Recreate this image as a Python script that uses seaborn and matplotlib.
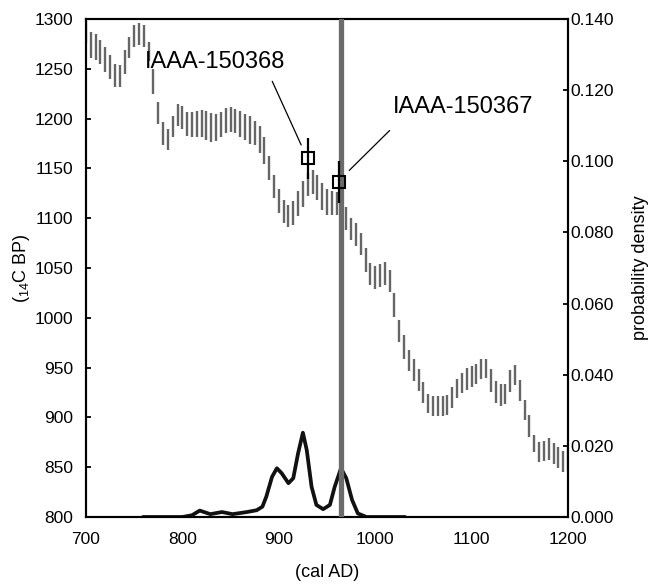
import numpy as np
import pandas as pd
import matplotlib
matplotlib.use('Agg')
import matplotlib.pyplot as plt
from matplotlib.ticker import FormatStrFormatter
import seaborn as sns

# calibration curve: 1-sigma band every 5 years (14C BP)
cal_year = list(range(700, 1205, 5))
cal_upper = [1298, 1287, 1285, 1279, 1272, 1264, 1255, 1254, 1269, 1282,
             1294, 1296, 1294, 1277, 1250, 1217, 1197, 1190, 1203, 1215,
             1213, 1207, 1207, 1208, 1209, 1208, 1206, 1205, 1207, 1211,
             1212, 1210, 1208, 1205, 1203, 1198, 1193, 1182, 1162, 1143,
             1129, 1118, 1113, 1117, 1127, 1137, 1145, 1148, 1143, 1135,
             1129, 1127, 1126, 1117, 1111, 1100, 1095, 1085, 1070, 1055,
             1052, 1054, 1056, 1048, 1025, 998, 983, 968, 959, 949,
             936, 923, 921, 921, 921, 922, 931, 939, 945, 950,
             952, 954, 959, 959, 949, 937, 934, 934, 948, 953,
             938, 917, 902, 882, 875, 876, 879, 874, 870, 866, 871]
cal_lower = [1276, 1261, 1259, 1255, 1247, 1240, 1232, 1232, 1245, 1261,
             1272, 1274, 1272, 1258, 1225, 1195, 1173, 1168, 1182, 1193,
             1190, 1183, 1182, 1182, 1182, 1179, 1177, 1178, 1182, 1186,
             1187, 1186, 1182, 1179, 1175, 1173, 1165, 1154, 1138, 1120,
             1105, 1095, 1091, 1093, 1102, 1111, 1122, 1124, 1118, 1108,
             1103, 1103, 1103, 1094, 1088, 1078, 1072, 1063, 1046, 1033,
             1029, 1031, 1033, 1026, 1001, 976, 959, 947, 937, 927,
             914, 904, 901, 901, 901, 902, 909, 919, 924, 928,
             931, 934, 939, 940, 926, 914, 911, 913, 926, 933,
             916, 897, 880, 865, 855, 856, 857, 853, 849, 845, 846]

# calibrated probability density (cal AD)
dens_year = [759, 800, 810, 818, 829, 841, 852, 867, 877, 883, 887, 893,
             898, 903, 910, 915, 920, 925, 929, 934, 939, 946, 953, 958,
             964.5, 970, 976, 982, 991, 1031]
dens_prob = [0.0, 0.0, 0.0005, 0.0018, 0.0008, 0.0014, 0.0008, 0.0014,
             0.0019, 0.0029, 0.0057, 0.0113, 0.0137, 0.0123, 0.0095, 0.0109,
             0.0179, 0.0237, 0.0188, 0.0085, 0.0034, 0.0022, 0.0034, 0.0085,
             0.0137, 0.0109, 0.0048, 0.0010, 0.0, 0.0]

median_year = 964.5

sample_ids = ["IAAA-150368", "IAAA-150367"]
sample_year = [930.6, 962.4]
sample_bp = [1160, 1136]
sample_err = [21, 21]

df_cal = pd.DataFrame({"year": cal_year, "upper": cal_upper, "lower": cal_lower})
df_dens = pd.DataFrame({"year": dens_year, "prob": dens_prob})

sns.set_style("white")
plt.rcParams['font.family'] = ['Liberation Sans', 'DejaVu Sans']
plt.rcParams['mathtext.fontset'] = 'custom'
plt.rcParams['mathtext.rm'] = 'Liberation Sans'
plt.rcParams['mathtext.it'] = 'Liberation Sans'
plt.rcParams['text.color'] = 'black'
plt.rcParams['axes.labelcolor'] = 'black'

fig = plt.figure(figsize=(6.52, 5.85), dpi=100)
ax = fig.add_axes([86 / 652, 1 - 517 / 585, 482 / 652, 498 / 585])
ax2 = ax.twinx()

# density on the right axis (drawn below the curve axis)
sns.lineplot(data=df_dens, x="year", y="prob", ax=ax2, color="#111111",
             linewidth=2.7, estimator=None, sort=False)
ax2.set_ylim(0, 0.14)
ax2.set_yticks(np.arange(0, 0.1401, 0.02))
ax2.yaxis.set_major_formatter(FormatStrFormatter('%.3f'))
ax2.set_ylabel("probability density", fontsize=13, labelpad=13)

# calibration curve and samples on the left axis
ax.set_zorder(ax2.get_zorder() + 1)
ax.patch.set_visible(False)
ax.vlines(df_cal["year"], df_cal["lower"], df_cal["upper"],
          color="#666666", linewidth=1.7, zorder=2)
ax.axvline(median_year, color="#6b6b6b", linewidth=3.8, zorder=3)
ax.errorbar(sample_year, sample_bp, yerr=sample_err, fmt='s', ms=9,
            mfc='none', mec='black', mew=1.5, ecolor='black', elinewidth=1.6,
            capsize=0, zorder=4)

# labels with leader lines
ax.text(761, 1257, sample_ids[0], fontsize=17, ha='left', va='center', zorder=5)
ax.annotate("", xy=(924.4, 1171), xytext=(892, 1240),
            arrowprops=dict(arrowstyle='-', color='black', lw=0.9))
ax.text(1018, 1212, sample_ids[1], fontsize=17, ha='left', va='center', zorder=5)
ax.annotate("", xy=(971, 1146), xytext=(1017, 1190),
            arrowprops=dict(arrowstyle='-', color='black', lw=0.9))

ax.set_xlim(700, 1200)
ax.set_ylim(800, 1300)
ax.set_xticks(range(700, 1201, 100))
ax.set_yticks(range(800, 1301, 50))
ax.set_xlabel("(cal AD)", fontsize=13, labelpad=12)
ax.set_ylabel("($_{14}$C BP)", fontsize=13, labelpad=2)

for a in (ax, ax2):
    for s in a.spines.values():
        s.set_linewidth(1.5)
        s.set_color('black')
ax.tick_params(axis='both', direction='in', length=3.5, width=1.3,
               labelsize=12.5, colors='black')
ax.tick_params(axis='y', pad=9)
ax.tick_params(axis='x', pad=11)
ax2.tick_params(axis='y', direction='in', length=3.5, width=1.3,
                labelsize=12.5, pad=2, colors='black')

fig.savefig("out.png", dpi=100)
